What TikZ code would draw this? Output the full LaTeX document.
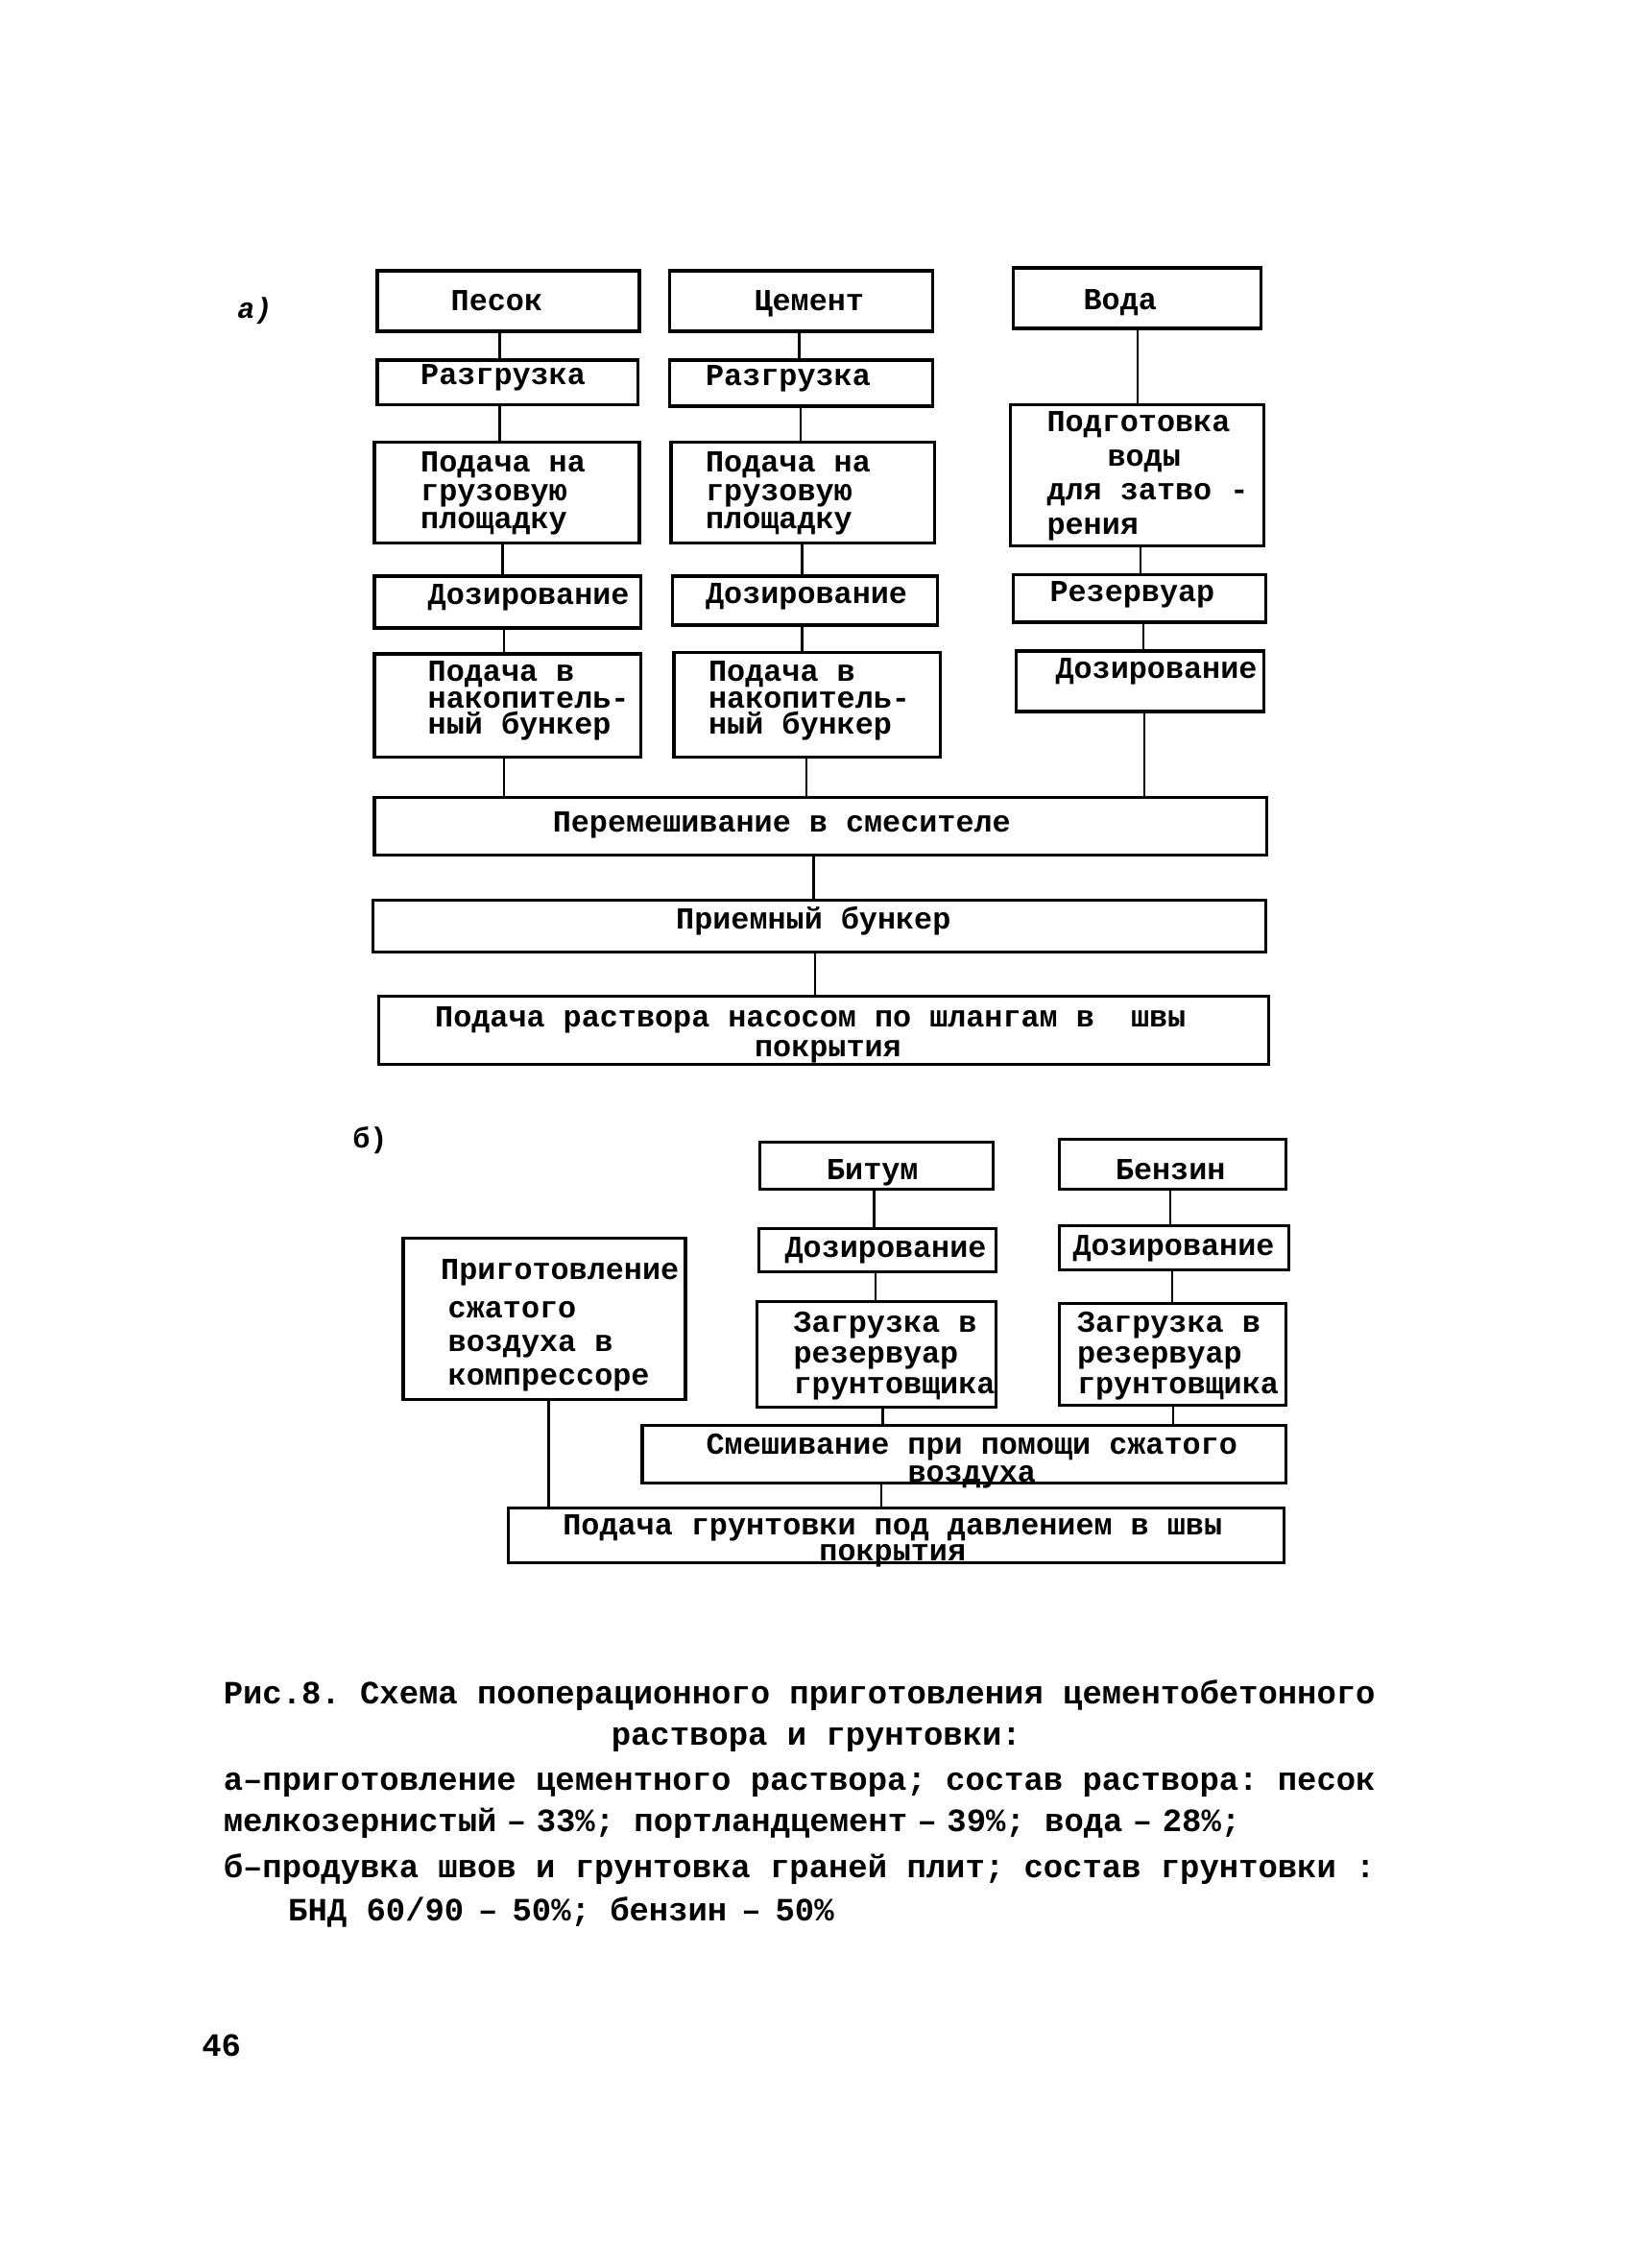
\documentclass[tikz,border=0pt]{standalone}
\usepackage{fontspec}
\newfontfamily\tw{Liberation Mono}
\usetikzlibrary{fit}
\frenchspacing
\tikzset{
  blk/.style={draw, line width=2.2pt, inner sep=0pt},
  lnk/.style={line width=1.6pt},
  bt/.style={inner sep=0pt, font=\tw\bfseries\fontsize{21.2}{#1}\selectfont, align=left},
  bt/.default=20,
  ct/.style={inner sep=0pt, font=\tw\bfseries\fontsize{22.6}{30}\selectfont, anchor=base west},
}
\begin{document}
\begin{tikzpicture}[x=1pt,y=-1pt]
\useasboundingbox (0,0) rectangle (1134,1575);
\fill[white] (0,0) rectangle (1134,1575);

% ---------- part a ----------
\node[bt, font=\tw\bfseries\itshape\fontsize{20}{20}\selectfont, anchor=base] (lab-a) at (177,221) {а)};

\node[blk, fit={(262,188)(444,230)}] (pes) {};
\node[blk, fit={(465,188)(648,230)}] (cem) {};
\node[blk, fit={(704,186)(876,228)}] (voda) {};
\node[blk, fit={(262,250)(443,281)}] (raz1) {};
\node[blk, fit={(465,250)(648,282)}] (raz2) {};
\node[blk, fit={(260,307)(444,377)}] (pod1) {};
\node[blk, fit={(466,307)(649,377)}] (pod2) {};
\node[blk, fit={(702,281)(878,379)}] (podg) {};
\node[blk, fit={(260,400)(445,436)}] (doz1) {};
\node[blk, fit={(467,400)(651,434)}] (doz2) {};
\node[blk, fit={(704,399)(879,432)}] (rez) {};
\node[blk, fit={(260,454)(445,526)}] (nak1) {};
\node[blk, fit={(468,453)(653,526)}] (nak2) {};
\node[blk, fit={(706,452)(878,494)}] (doz3) {};
\node[blk, fit={(260,554)(880,594)}] (mix) {};
\node[blk, fit={(259,625)(879,661)}] (prb) {};
\node[blk, fit={(263,692)(881,739)}] (feed) {};

% (for multi-line texts the base anchor is the baseline of the last line)
\node[bt, anchor=base] (pes-t) at (345,216) {Песок};
\node[bt, anchor=base] (cem-t) at (562,216) {Цемент};
\node[bt, anchor=base] (voda-t) at (778,215) {Вода};
\node[bt, anchor=base west] (raz1-t) at (292,267) {Разгрузка};
\node[bt, anchor=base west] (raz2-t) at (490,268) {Разгрузка};
\node[bt=19.5, anchor=base west] (pod1-t) at (292,367) {Подача на\\грузовую\\площадку};
\node[bt=19.5, anchor=base west] (pod2-t) at (490,367) {Подача на\\грузовую\\площадку};
\node[bt=23.7, anchor=base west] (podg-t) at (727,371) {Подготовка\\\hspace*{42pt}воды\\для затво -\\рения};
\node[bt, anchor=base west] (doz1-t) at (297,420) {Дозирование};
\node[bt, anchor=base west] (doz2-t) at (490,419) {Дозирование};
\node[bt, anchor=base west] (rez-t) at (729,418) {Резервуар};
\node[bt=18.5, anchor=base west] (nak1-t) at (297,510) {Подача в\\накопитель-\\ный бункер};
\node[bt=18.5, anchor=base west] (nak2-t) at (492,510) {Подача в\\накопитель-\\ный бункер};
\node[bt, anchor=base west] (doz3-t) at (733,471) {Дозирование};
\node[bt, anchor=base] (mix-t) at (543,578) {Перемешивание в смесителе};
\node[bt, anchor=base] (prb-t) at (565,645) {Приемный бункер};
\node[bt=21, anchor=base west] (feed-t) at (302,734) {Подача раствора насосом по шлангам в\ \ швы\\\hspace*{222pt}покрытия};

\draw[lnk] (pes.south -| 347,0) -- (raz1.north -| 347,0);
\draw[lnk] (raz1.south -| 347,0) -- (pod1.north -| 347,0);
\draw[lnk] (pod1.south -| 349,0) -- (doz1.north -| 349,0);
\draw[lnk] (doz1.south -| 350,0) -- (nak1.north -| 350,0);
\draw[lnk] (nak1.south -| 350,0) -- (mix.north -| 350,0);
\draw[lnk] (cem.south -| 555,0) -- (raz2.north -| 555,0);
\draw[lnk] (raz2.south -| 556,0) -- (pod2.north -| 556,0);
\draw[lnk] (pod2.south -| 557,0) -- (doz2.north -| 557,0);
\draw[lnk] (doz2.south -| 557,0) -- (nak2.north -| 557,0);
\draw[lnk] (nak2.south -| 560,0) -- (mix.north -| 560,0);
\draw[lnk] (voda.south -| 790,0) -- (podg.north -| 790,0);
\draw[lnk] (podg.south -| 792,0) -- (rez.north -| 792,0);
\draw[lnk] (rez.south -| 794,0) -- (doz3.north -| 794,0);
\draw[lnk] (doz3.south -| 795,0) -- (mix.north -| 795,0);
\draw[lnk] (mix.south -| 565,0) -- (prb.north -| 565,0);
\draw[lnk] (prb.south -| 566,0) -- (feed.north -| 566,0);

% ---------- part b ----------
\node[bt, font=\tw\bfseries\fontsize{20}{20}\selectfont, anchor=base] (lab-b) at (257,797) {б)};

\node[blk, fit={(528,793)(690,826)}] (bit) {};
\node[blk, fit={(736,791)(893,826)}] (benz) {};
\node[blk, fit={(527,853)(692,883)}] (dzb1) {};
\node[blk, fit={(736,851)(895,882)}] (dzb2) {};
\node[blk, fit={(526,904)(692,977)}] (zag1) {};
\node[blk, fit={(736,905)(893,976)}] (zag2) {};
\node[blk, fit={(280,860)(476,972)}] (comp) {};
\node[blk, fit={(446,990)(893,1030)}] (smes) {};
\node[blk, fit={(353,1047)(892,1085)}] (gfeed) {};

\node[bt, anchor=base] (bit-t) at (606,819) {Битум};
\node[bt, anchor=base] (benz-t) at (813,819) {Бензин};
\node[bt, anchor=base west] (dzb1-t) at (545,873) {Дозирование};
\node[bt, anchor=base west] (dzb2-t) at (745,872) {Дозирование};
\node[bt=21.5, anchor=base west] (zag1-t) at (551,968) {Загрузка в\\резервуар\\грунтовщика};
\node[bt=21.5, anchor=base west] (zag2-t) at (748,968) {Загрузка в\\резервуар\\грунтовщика};
\node[bt=23.5, anchor=base west] (comp-t) at (306,962) {Приготовление\\[3pt]\hspace*{5pt}сжатого\\\hspace*{5pt}воздуха в\\\hspace*{5pt}компрессоре};
\node[bt=19, align=center, anchor=base] (smes-t) at (675,1029) {Смешивание при помощи сжатого\\воздуха};
\node[bt=18, align=center, anchor=base] (gfeed-t) at (620,1084) {Подача грунтовки под давлением в швы\\покрытия};

\draw[lnk] (bit.south -| 607,0) -- (dzb1.north -| 607,0);
\draw[lnk] (dzb1.south -| 608,0) -- (zag1.north -| 608,0);
\draw[lnk] (zag1.south -| 613,0) -- (smes.north -| 613,0);
\draw[lnk] (benz.south -| 813,0) -- (dzb2.north -| 813,0);
\draw[lnk] (dzb2.south -| 814,0) -- (zag2.north -| 814,0);
\draw[lnk] (zag2.south -| 815,0) -- (smes.north -| 815,0);
\draw[lnk] (smes.south -| 612,0) -- (gfeed.north -| 612,0);
\draw[lnk] (comp.south -| 381,0) -- (gfeed.north -| 381,0);

% ---------- caption ----------
\node[ct] (cap1) at (155,1183) {Рис.8. Схема пооперационного приготовления цементобетонного};
\node[ct, anchor=base] (cap2) at (567,1212) {раствора и грунтовки:};
\node[ct] (cap3) at (155,1243) {а–приготовление цементного раствора; состав раствора: песок};
\node[ct] (cap4) at (155,1272) {мелкозернистый\kern7pt–\kern7pt33\%; портландцемент\kern7pt–\kern7pt39\%; вода\kern7pt–\kern7pt28\%;};
\node[ct] (cap5) at (155,1304) {б–продувка швов и грунтовка граней плит; состав грунтовки :};
\node[ct] (cap6) at (200,1334) {БНД 60/90\kern10pt–\kern10pt50\%; бензин\kern10pt–\kern10pt50\%};
\node[ct] (pageno) at (140,1428) {46};
\end{tikzpicture}
\end{document}
